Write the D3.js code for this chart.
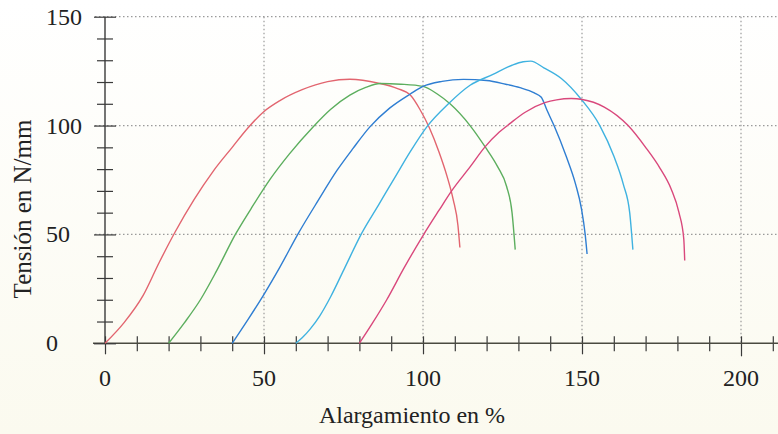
<!DOCTYPE html>
<html>
<head>
<meta charset="utf-8">
<script src="https://cdn.jsdelivr.net/npm/d3@7"></script>
<style>
  body { margin: 0; background: #fff; }
  svg { display: block; }
</style>
</head>
<body>
<script>
"use strict";

// Width and height
let w = 778;
let h = 434;

// elongation (%) vs tension (N/mm), one array per test curve
let curveRed = [[0, 0], [6, 9.5], [12, 22], [17, 37], [22, 51], [28, 66], [34, 79], [40, 90],
    [45, 99], [50, 106.5], [55, 111.5], [62, 116.5], [70, 120.2], [77, 121.3], [86, 119.5],
    [92, 117], [96, 114], [99, 107.5], [102, 99], [105, 88], [107.5, 77], [109.5, 66],
    [111, 54], [111.6, 44]];
let curveGreen = [[20, 0], [25, 9.5], [30, 20], [35, 33], [41, 50], [46, 62], [52, 75.5],
    [58, 87], [65.5, 99.5], [71, 107.5], [77, 114], [82, 117.5], [86.5, 119.3], [93, 119],
    [100, 118], [104.5, 114.5], [108.5, 110], [114.8, 100], [119.5, 90.3], [123.5, 81],
    [126.3, 72], [128, 60], [129, 43]];
let curveBlue = [[40, 0], [45, 11], [50, 22.5], [55, 35], [60.8, 50.5], [67, 65.5], [73, 79.5],
    [78, 89.5], [83.3, 99.4], [89.5, 108], [96, 114.5], [100, 118], [106, 120.3],
    [112.7, 121.2], [120, 120.7], [126, 119], [130.5, 117.4], [135, 115], [137.2, 113],
    [139, 107], [141.2, 100], [145, 86], [148, 73], [149.8, 62], [151, 50], [151.6, 41]];
let curveCyan = [[60, 0], [62, 2.5], [64.5, 6.5], [67.5, 12.5], [71, 21.5], [75.5, 35],
    [80.7, 50.5], [86, 63.5], [91.5, 77], [96, 88], [101.2, 99.4], [108, 110], [114.8, 118.5],
    [122, 123.5], [128, 127.7], [131.5, 129.3], [133.9, 129.6], [138, 126.5], [143.5, 121.6],
    [149.8, 112], [155.6, 100], [160, 86], [163, 73], [165, 60], [166, 43]];
let curvePink = [[80, 0], [84, 9], [88.6, 20], [94, 34.5], [100.1, 49.7], [105, 61], [109, 70],
    [114.8, 81], [119.5, 90.2], [124, 97], [127.4, 101], [132, 106], [138.3, 110.5],
    [142, 111.8], [146.6, 112.4], [150.1, 112], [157, 108.5], [164.5, 100], [170, 90],
    [174.5, 80.5], [178, 71], [180.5, 60], [182, 48], [182.3, 38]];

let curves = [curveRed, curveGreen, curveBlue, curveCyan, curvePink];
let colors = ["#e2656f", "#5cae5e", "#2f7ed2", "#3fb2e0", "#d9487c"];

let xMajor = [0, 50, 100, 150, 200];
let yMajor = [0, 50, 100, 150];

let x = d3.scaleLinear().domain([0, 200]).range([105, 741]);
let y = d3.scaleLinear().domain([0, 150]).range([343.3, 16.7]);

let svg = d3.select("body")
    .append("svg")
    .attr("width", w)
    .attr("height", h);

// faint paper tone, whiter at the top
let grad = svg.append("defs").append("linearGradient")
    .attr("id", "paper").attr("x1", 0).attr("y1", 0).attr("x2", 0).attr("y2", 1);
grad.append("stop").attr("offset", "0%").attr("stop-color", "#ffffff");
grad.append("stop").attr("offset", "100%").attr("stop-color", "#fbfaef");
svg.append("rect").attr("width", w).attr("height", h).attr("fill", "url(#paper)");

// dotted grid
let grid = svg.append("g").attr("class", "grid")
    .attr("stroke", "#9a9a9a").attr("stroke-width", 1.2).attr("stroke-dasharray", "1.5,2.5");
grid.selectAll("line.h")
    .data(yMajor.filter(d => d > 0))
    .enter().append("line")
    .attr("class", "h")
    .attr("x1", 95).attr("x2", w)
    .attr("y1", d => y(d)).attr("y2", d => y(d));
grid.selectAll("line.v")
    .data(xMajor.filter(d => d > 0))
    .enter().append("line")
    .attr("class", "v")
    .attr("x1", d => x(d)).attr("x2", d => x(d))
    .attr("y1", y(150)).attr("y2", y(0));

// x axis, ticks every 10 going through the line
let xAxis = svg.append("g")
    .attr("transform", `translate(0,${y(0)})`)
    .call(d3.axisBottom(x).tickValues(d3.range(0, 211, 10)).tickSize(0).tickFormat(""));
xAxis.select(".domain").remove();
xAxis.append("line").attr("x1", 93).attr("x2", w).attr("stroke", "#4a4a40").attr("stroke-width", 1.4);
xAxis.selectAll(".tick line")
    .attr("stroke", "#3a3a3a").attr("stroke-width", 1.2)
    .attr("y1", -7)
    .attr("y2", d => d === 200 ? 13 : (xMajor.includes(d) ? 11 : 8));

// y axis, same idea
let yAxis = svg.append("g")
    .attr("transform", `translate(${x(0)},0)`)
    .call(d3.axisLeft(y).tickValues(d3.range(0, 151, 10)).tickSize(0).tickFormat(""));
yAxis.select(".domain").remove();
yAxis.append("line").attr("y1", y(150)).attr("y2", y(0)).attr("stroke", "#3a3a3a").attr("stroke-width", 1.4);
yAxis.selectAll(".tick line")
    .attr("stroke", "#3a3a3a").attr("stroke-width", 1.2)
    .attr("x1", d => yMajor.includes(d) ? -11 : -8)
    .attr("x2", d => yMajor.includes(d) ? 11 : 8);

// tick labels
svg.append("g").selectAll("text")
    .data(xMajor)
    .enter().append("text")
    .attr("x", d => x(d))
    .attr("y", 386)
    .attr("text-anchor", "middle")
    .attr("font-family", "Liberation Serif, serif")
    .attr("font-size", 24)
    .attr("fill", "#222")
    .text(d => d);
svg.append("g").selectAll("text")
    .data(yMajor)
    .enter().append("text")
    .attr("x", 46)
    .attr("y", d => y(d) + 8)
    .attr("text-anchor", "start")
    .attr("font-family", "Liberation Serif, serif")
    .attr("font-size", 24)
    .attr("fill", "#222")
    .text(d => d);

// axis titles
svg.append("text")
    .attr("x", 412).attr("y", 423)
    .attr("text-anchor", "middle")
    .attr("font-family", "Liberation Serif, serif")
    .attr("font-size", 24)
    .attr("fill", "#222")
    .text("Alargamiento en %");
svg.append("text")
    .attr("transform", "translate(31,209) rotate(-90)")
    .attr("text-anchor", "middle")
    .attr("font-family", "Liberation Serif, serif")
    .attr("font-size", 25)
    .attr("fill", "#222")
    .text("Tensión en N/mm");

// the curves
let line = d3.line()
    .x(d => x(d[0]))
    .y(d => y(d[1]))
    .curve(d3.curveMonotoneX);

svg.append("g").selectAll("path")
    .data(curves)
    .enter().append("path")
    .attr("d", line)
    .attr("fill", "none")
    .attr("stroke", (d, i) => colors[i])
    .attr("stroke-width", 1.4);
</script>
</body>
</html>
